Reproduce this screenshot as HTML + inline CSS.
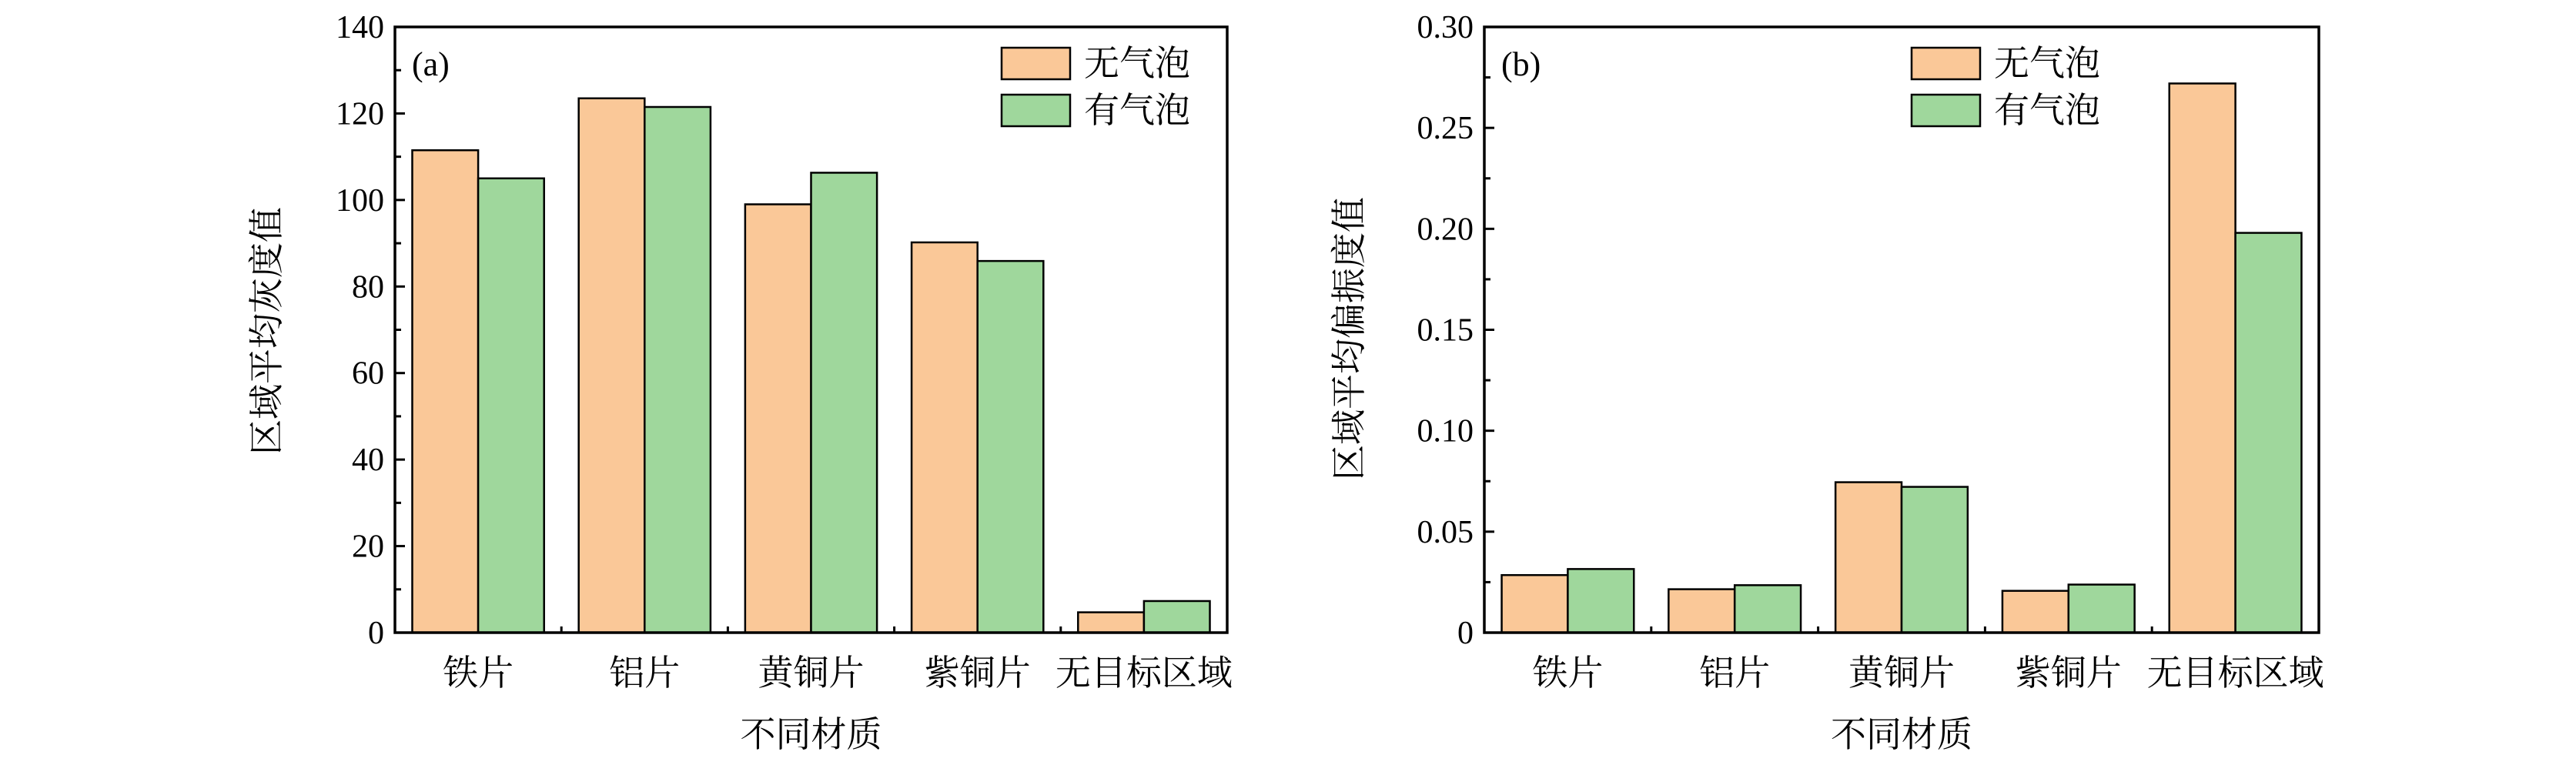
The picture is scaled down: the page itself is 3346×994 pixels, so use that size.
<!DOCTYPE html>
<html><head><meta charset="utf-8">
<style>
html,body{margin:0;padding:0;background:#fff;}
svg{display:block;}
text{font-family:"Liberation Serif","Noto Serif CJK SC","Noto Sans CJK SC",serif;fill:#000;}
</style></head>
<body>
<svg id="chart" width="3346" height="994" viewBox="0 0 3346 994" xmlns="http://www.w3.org/2000/svg"></svg>
<script>
const categories = ["铁片","铝片","黄铜片","紫铜片","无目标区域"];
const seriesNames = ["无气泡","有气泡"];
const grayNoBubble = [111.5,123.5,99.0,90.2,4.7];
const grayBubble = [105.0,121.5,106.3,85.9,7.3];
const polNoBubble = [0.0285,0.0215,0.0745,0.0207,0.272];
const polBubble = [0.0315,0.0235,0.0722,0.0238,0.198];
const grayTicks = [0,20,40,60,80,100,120,140];
const grayTickLabels = ["0","20","40","60","80","100","120","140"];
const polTicks = [0,0.05,0.10,0.15,0.20,0.25,0.30];
const polTickLabels = ["0","0.05","0.10","0.15","0.20","0.25","0.30"];

const NS="http://www.w3.org/2000/svg";
const svg=document.getElementById('chart');
const colors=["#FAC898","#9FD79C"];
function mk(tag,attrs,parent){const e=document.createElementNS(NS,tag);for(const k in attrs)e.setAttribute(k,attrs[k]);(parent||svg).appendChild(e);return e;}

function drawPanel(cfg){
  const g=mk('g',{});
  
  
  const L=cfg.left,R=cfg.right,T=35,B=822;
  const yMax=cfg.ticks[cfg.ticks.length-1];
  const ys=v=>B-(v/yMax)*(B-T);
  const gw=(R-L)/categories.length;
  const bw=gw*0.396;
  const xs=i=>L+gw*(i+0.5);
  // bars
  [cfg.s1,cfg.s2].forEach((arr,si)=>{
    arr.forEach((v,i)=>{
      const x=si===0?xs(i)-bw:xs(i);
      const r=mk('rect',{x:x,y:ys(v),width:bw,height:B-ys(v),fill:colors[si],stroke:'#000','stroke-width':2.5},g);
      
      
    });
  });
  // axes frame
  const fr=mk('rect',{x:L,y:T,width:R-L,height:B-T,fill:'none',stroke:'#000','stroke-width':3.5},g);
  
  
  // y ticks
  cfg.ticks.forEach((t,i)=>{
    const y=ys(t);
    mk('line',{x1:L,x2:L+13,y1:y,y2:y,stroke:'#000','stroke-width':3},g);
    if(i<cfg.ticks.length-1){const ym=ys((t+cfg.ticks[i+1])/2);mk('line',{x1:L,x2:L+8,y1:ym,y2:ym,stroke:'#000','stroke-width':3},g);}
    const tx=mk('text',{x:L-14,y:y+14,'text-anchor':'end','font-size':42},g);
    tx.textContent=cfg.labels[i];
    
    
  });
  // x ticks & labels
  for(let i=1;i<categories.length;i++){const x=L+gw*i;mk('line',{x1:x,x2:x,y1:B,y2:B-8,stroke:'#000','stroke-width':3},g);}
  categories.forEach((c,i)=>{
    const tx=mk('text',{x:xs(i),y:890,'text-anchor':'middle','font-size':46},g);
    tx.textContent=c;
    
    
  });
  const xt=mk('text',{x:(L+R)/2,y:970,'text-anchor':'middle','font-size':46},g);
  xt.textContent='不同材质';
  
  
  const yt=mk('text',{x:0,y:0,'text-anchor':'middle','font-size':46,transform:'translate('+(cfg.ytx)+','+(cfg.yty)+') rotate(-90)'},g);
  yt.textContent=cfg.ytitle;
  
  
  const pl=mk('text',{x:L+22,y:98,'font-size':44},g);
  pl.textContent=cfg.panel;
  
  
  // legend
  seriesNames.forEach((n,si)=>{
    const y0=62+si*61;
    const sw=mk('rect',{x:cfg.legX,y:y0,width:89,height:41,fill:colors[si],stroke:'#000','stroke-width':2.5},g);
    
    
    const lt=mk('text',{x:cfg.legX+107,y:y0+36,'font-size':46},g);
    lt.textContent=n;
    
    
  });
}
drawPanel({name:'panel-a',left:513,right:1594,ticks:grayTicks,labels:grayTickLabels,s1:grayNoBubble,s2:grayBubble,ytitle:'区域平均灰度值',ytx:362,yty:430,panel:'(a)',legX:1301});
drawPanel({name:'panel-b',left:1928,right:3012,ticks:polTicks,labels:polTickLabels,s1:polNoBubble,s2:polBubble,ytitle:'区域平均偏振度值',ytx:1768,yty:440,panel:'(b)',legX:2483});
</script>
</body></html>
